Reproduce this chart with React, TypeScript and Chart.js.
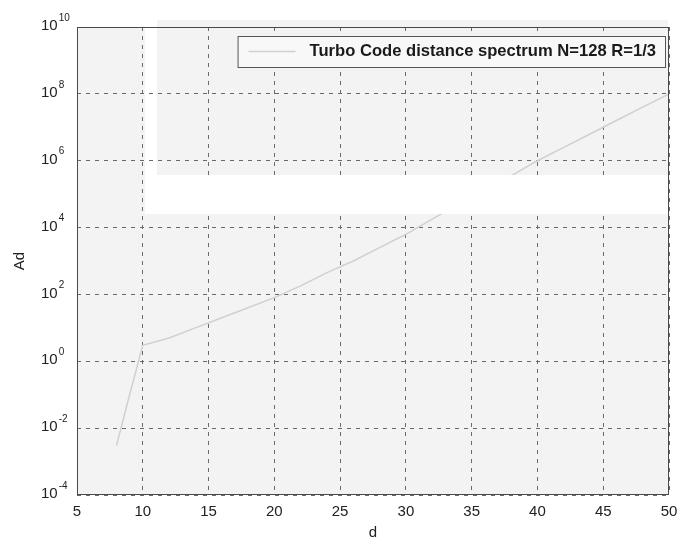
import React, { useEffect, useRef } from "react";
import { Chart, registerables } from "chart.js";

Chart.register(...registerables);

// ---- data ----
const seriesLabel = "Turbo Code distance spectrum N=128 R=1/3";
const distances = [8, 9, 10, 12, 14, 16, 18, 20, 22, 24, 26, 28, 30, 32, 34, 36, 38, 40, 42, 44, 46, 48, 50];
const multiplicities = [
  3e-3, 1e-1, 3, 5, 1e1, 2e1, 4e1, 8e1, 1.8e2, 4.5e2, 1e3, 2.5e3, 6.3e3, 1.8e4, 5e4, 1.3e5, 3.5e5, 1e6,
  2.5e6, 6.3e6, 1.6e7, 4e7, 1e8,
];
const xTickValues = [5, 10, 15, 20, 25, 30, 35, 40, 45, 50];
const yTickExponents = [-4, -2, 0, 2, 4, 6, 8, 10];
const xTitle = "d";
const yTitle = "Ad";

const FONT = "'Liberation Sans', Arial, sans-serif";

export default function App() {
  const ref = useRef<HTMLCanvasElement | null>(null);

  useEffect(() => {
    document.body.style.margin = "0";
    const canvas = ref.current;
    if (!canvas) return;

    const backgroundPlugin = {
      id: "matlabBackground",
      beforeDraw(chart: any) {
        const { ctx, chartArea: a } = chart;
        ctx.save();
        ctx.fillStyle = "#f3f3f3";
        ctx.fillRect(a.left, a.top, a.right - a.left, a.bottom - a.top);
        // scan artefacts: light area above the frame and a white strip
        ctx.fillRect(a.left + 80, a.top - 7, a.right - a.left - 81, 7);
        ctx.fillStyle = "#ffffff";
        ctx.fillRect(a.left + 68, 0, 12, a.top + 148);
        ctx.restore();
      },
      afterDatasetsDraw(chart: any) {
        const { ctx, chartArea: a } = chart;
        ctx.save();
        // white scan band across the plot
        ctx.fillStyle = "#ffffff";
        ctx.fillRect(a.left + 68, a.top + 148, a.right - a.left - 69, 39);
        // frame
        ctx.strokeStyle = "#4a4a4a";
        ctx.lineWidth = 1;
        ctx.setLineDash([]);
        ctx.strokeRect(a.left + 0.5, a.top + 0.5, a.right - a.left - 1, a.bottom - a.top - 1);
        ctx.restore();
      },
      afterDraw(chart: any) {
        const { ctx, chartArea: a } = chart;
        const yScale = chart.scales.y;
        ctx.save();
        // y tick labels as 10^n with superscript
        ctx.fillStyle = "#222";
        ctx.textBaseline = "middle";
        ctx.textAlign = "left";
        for (const e of yTickExponents) {
          const y = yScale.getPixelForValue(Math.pow(10, e));
          ctx.font = `15px ${FONT}`;
          ctx.fillText("10", 41, y - 1);
          const w = ctx.measureText("10").width;
          ctx.font = `10px ${FONT}`;
          ctx.fillText(String(e), 41 + w + 1, y - 9);
        }
        // legend box
        const ds = chart.data.datasets[0];
        ctx.font = `bold 16.6px ${FONT}`;
        const tw = ctx.measureText(ds.label).width;
        const boxH = 31;
        const boxW = tw + 81;
        const bx = a.right - 4 - boxW;
        const by = a.top + 9;
        ctx.fillStyle = "#f8f8f8";
        ctx.fillRect(bx, by, boxW, boxH);
        ctx.strokeStyle = "#555";
        ctx.lineWidth = 1;
        ctx.strokeRect(bx + 0.5, by + 0.5, boxW, boxH);
        ctx.strokeStyle = ds.borderColor;
        ctx.lineWidth = 1.5;
        ctx.beginPath();
        ctx.moveTo(bx + 11, by + boxH / 2);
        ctx.lineTo(bx + 58, by + boxH / 2);
        ctx.stroke();
        ctx.fillStyle = "#1a1a1a";
        ctx.textAlign = "left";
        ctx.textBaseline = "middle";
        ctx.fillText(ds.label, bx + 72, by + boxH / 2);
        ctx.restore();
      },
    };

    const chart = new Chart(canvas, {
      type: "line",
      data: {
        datasets: [
          {
            label: seriesLabel,
            data: distances.map((d, i) => ({ x: d, y: multiplicities[i] })),
            borderColor: "#d0d0d0",
            borderWidth: 1.5,
            pointRadius: 0,
            fill: false,
            tension: 0,
          },
        ],
      },
      options: {
        animation: false,
        responsive: false,
        devicePixelRatio: 1,
        layout: { padding: { top: 27, right: 8, left: 0, bottom: 0 } },
        plugins: {
          legend: { display: false },
          tooltip: { enabled: false },
        },
        scales: {
          x: {
            type: "linear",
            min: 5,
            max: 50,
            afterBuildTicks: (s: any) => {
              s.ticks = xTickValues.map((v) => ({ value: v }));
            },
            afterFit: (s: any) => {
              s.height = 47;
              s.paddingLeft = 0;
              s.paddingRight = 0;
            },
            ticks: {
              color: "#222",
              font: { family: FONT, size: 15 },
              padding: 8,
              maxRotation: 0,
              autoSkip: false,
            },
            grid: { color: "#6a6a6a", lineWidth: 1, drawTicks: false },
            border: { display: false, dash: [4, 5] },
            title: {
              display: true,
              text: xTitle,
              color: "#222",
              font: { family: FONT, size: 15 },
              padding: { top: 0, bottom: 0 },
            },
          },
          y: {
            type: "logarithmic",
            min: 1e-4,
            max: 1e10,
            afterBuildTicks: (s: any) => {
              s.ticks = yTickExponents.map((e) => ({ value: Math.pow(10, e) }));
            },
            afterFit: (s: any) => {
              s.width = 77;
              s.paddingTop = 0;
              s.paddingBottom = 0;
            },
            ticks: { display: false },
            grid: { color: "#6a6a6a", lineWidth: 1, drawTicks: false },
            border: { display: false, dash: [4, 5] },
            title: {
              display: true,
              text: yTitle,
              color: "#222",
              font: { family: FONT, size: 15 },
              padding: { top: 11, bottom: 0 },
            },
          },
        },
      },
      plugins: [backgroundPlugin],
    } as any);

    return () => chart.destroy();
  }, []);

  return (
    <div style={{ width: 677, height: 542 }}>
      <canvas ref={ref} width={677} height={542} style={{ display: "block" }} />
    </div>
  );
}
